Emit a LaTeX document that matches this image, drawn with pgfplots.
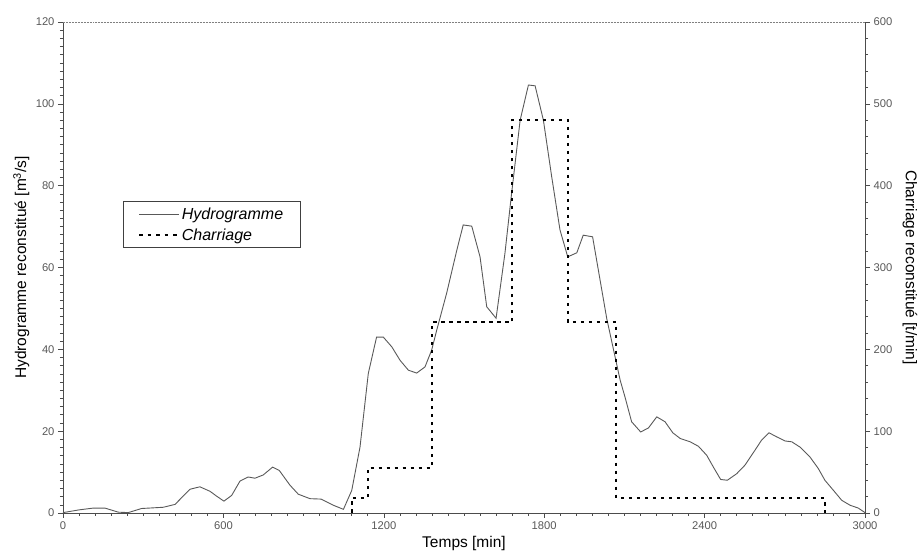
\documentclass[border=0pt]{standalone}
\usepackage{fontspec}
\setmainfont{Liberation Sans}
\usepackage{pgfplots}
\pgfplotsset{compat=1.18}
\usetikzlibrary{calc}

\pgfplotsset{
  base/.style={
    scale only axis, width=802pt, height=491pt,
    xmin=0, xmax=3000,
    tick align=outside,
    major tick length=5pt, minor tick length=3pt,
    tick style={color=black!70, line width=0.6pt},
    axis line style={black!70, line width=0.8pt},
    ticklabel style={font=\fontsize{11.2}{13}\selectfont, text=black!65},
    /pgf/number format/assume math mode=true,
    /pgf/number format/1000 sep={},
    label style={font=\fontsize{15.5}{18}\selectfont},
  }
}

\begin{document}
\begin{tikzpicture}

  % left axis : hydrogramme
  \begin{axis}[base,
      axis x line*=bottom, axis y line*=left,
      ymin=0, ymax=120, ytick={0,20,...,120}, minor y tick num=9,
      xtick={0,600,...,3000}, minor x tick num=9,
      xlabel={Temps [min]},
      ylabel={Hydrogramme reconstitué [m\textsuperscript{3}/s]},
      xlabel style={at={(axis description cs:0.5,-0.063)}, anchor=center},
      ylabel style={at={(axis description cs:-0.052,0.5)}, anchor=center},
      legend image code/.code={\draw[#1] (0pt,0pt) -- (40pt,0pt);},
      legend cell align=left,
      legend style={at={(axis description cs:0.075,0.635)}, anchor=north west,
        draw=black!75, line width=0.6pt, inner xsep=15pt, inner ysep=4pt,
        font=\itshape\fontsize{16}{18}\selectfont, row sep=4pt},
    ]
    \draw[densely dotted, black!50, line width=0.5pt] (rel axis cs:0,1) -- (rel axis cs:1,1);
    \addplot[black!65, line width=0.9pt] coordinates {
      (0,0.1) (64,0.8) (113,1.2) (157,1.2) (207,0.2) (244,0.1) (294,1.1)
      (375,1.4) (419,2.1) (475,5.8) (512,6.4) (550,5.3) (575,4.1) (602,2.9)
      (631,4.3) (662,7.8) (693,8.8) (718,8.5) (749,9.3) (784,11.2) (809,10.4)
      (849,6.8) (880,4.6) (924,3.5) (965,3.4) (1011,1.9) (1049,0.9) (1080,5.5)
      (1111,16.1) (1142,34.1) (1173,43.0) (1198,43.0) (1230,40.6) (1261,37.3)
      (1292,34.9) (1323,34.2) (1354,35.7) (1379,39.8) (1398,44.7) (1435,53.7)
      (1473,64.2) (1497,70.4) (1529,70.1) (1560,62.6) (1585,50.4) (1620,47.6)
      (1653,63.4) (1678,78.1) (1710,96.0) (1741,104.6) (1766,104.4) (1797,96.0)
      (1828,82.2) (1859,69.2) (1888,62.6) (1922,63.6) (1946,67.9) (1981,67.5)
      (2034,47.5) (2065,38.2) (2084,32.5) (2102,28.4) (2127,22.3) (2161,19.8)
      (2190,20.8) (2221,23.5) (2252,22.3) (2281,19.6) (2309,18.2) (2346,17.4)
      (2377,16.3) (2408,14.1) (2433,11.2) (2460,8.2) (2485,8.0) (2520,9.6)
      (2551,11.7) (2588,15.3) (2613,17.8) (2641,19.6) (2670,18.6) (2701,17.6)
      (2726,17.4) (2757,16.1) (2794,13.7) (2825,10.9) (2850,8.0) (2881,5.6)
      (2913,3.1) (2944,1.9) (2975,1.2) (3000,0.1)
    };
    \addlegendentry{Hydrogramme}
    \addlegendimage{black, line width=1.4pt, dash pattern=on 3.5pt off 5pt}
    \addlegendentry{Charriage}
  \end{axis}

  % right axis : charriage
  \begin{axis}[base,
      axis x line=none, axis y line*=right,
      ymin=0, ymax=600, ytick={0,100,...,600}, minor y tick num=4,
      ylabel={Charriage reconstitué [t/min]},
      ylabel style={at={(axis description cs:1.056,0.5)}, anchor=center, rotate=180},
    ]
    \addplot[black, line width=1.9pt, dash pattern=on 3.5pt off 4.5pt] coordinates {
      (1080,0) (1080,18) (1140,18) (1140,55) (1380,55) (1380,233)
      (1680,233) (1680,480) (1890,480) (1890,233) (2070,233) (2070,18)
      (2850,18) (2850,0)
    };
  \end{axis}

  \pgfresetboundingbox
  \path ($(current axis.south west)+(-63pt,-46pt)$) rectangle
        ($(current axis.north east)+(58pt,22pt)$);
\end{tikzpicture}
\end{document}
